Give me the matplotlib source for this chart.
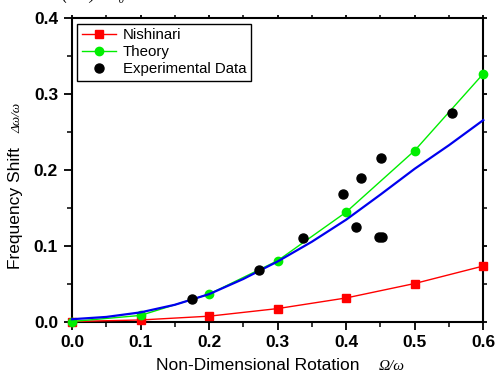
import matplotlib
matplotlib.use("Agg")
import matplotlib.pyplot as plt
from matplotlib.ticker import MultipleLocator

# ---- data ----
x_model = [0.0, 0.1, 0.2, 0.3, 0.4, 0.5, 0.6]
nishinari = [0.000, 0.002, 0.007, 0.017, 0.031, 0.050, 0.073]
theory = [0.000, 0.008, 0.036, 0.080, 0.144, 0.225, 0.326]

x_blue = [0.0, 0.05, 0.1, 0.15, 0.2, 0.25, 0.3, 0.35, 0.4, 0.45, 0.5, 0.55, 0.6]
blue = [0.003, 0.006, 0.012, 0.022, 0.036, 0.056, 0.079, 0.105, 0.134, 0.167, 0.201, 0.232, 0.265]

x_exp = [0.175, 0.273, 0.337, 0.395, 0.421, 0.451, 0.414, 0.448, 0.452, 0.555]
y_exp = [0.029, 0.068, 0.110, 0.168, 0.189, 0.215, 0.124, 0.111, 0.111, 0.275]

xticks = [0.0, 0.1, 0.2, 0.3, 0.4, 0.5, 0.6]
yticks = [0.0, 0.1, 0.2, 0.3, 0.4]

W, H = 497, 378
fig = plt.figure(figsize=(W / 100, H / 100), dpi=100)
ax = fig.add_axes([72 / W, 1 - 321.5 / H, (483.3 - 72) / W, (321.5 - 17.5) / H])

ax.plot(x_model, nishinari, color="red", lw=1.0, marker="s", ms=5.5,
        mec="red", mfc="red", label="Nishinari", clip_on=False, zorder=3)
ax.plot(x_model, theory, color="#00ee00", lw=1.0, marker="o", ms=6,
        mec="#00ee00", mfc="#00ee00", label="Theory", clip_on=False, zorder=3)
ax.plot(x_blue, blue, color="#0000ee", lw=1.6, clip_on=False, zorder=4)
ax.plot(x_exp, y_exp, ls="none", marker="o", ms=6.5, color="black",
        label="Experimental Data", zorder=5)

ax.set_xlim(0, 0.6)
ax.set_ylim(0, 0.4)
ax.set_xticks(xticks)
ax.set_yticks(yticks)
ax.set_xticklabels([f"{v:.1f}" for v in xticks])
ax.set_yticklabels([f"{v:.1f}" for v in yticks])
ax.xaxis.set_minor_locator(MultipleLocator(0.05))
ax.yaxis.set_minor_locator(MultipleLocator(0.05))

for sp in ax.spines.values():
    sp.set_linewidth(1.5)

ax.tick_params(axis="both", which="major", direction="out", length=6, width=1.3,
               labelsize=12.5, pad=4)
ax.tick_params(axis="both", which="minor", direction="out", length=3.5, width=1.1)
ax.tick_params(top=True, right=True, which="both")
for lbl in ax.get_xticklabels() + ax.get_yticklabels():
    lbl.set_fontweight("bold")
    lbl.set_family("Liberation Sans")
for t in ax.xaxis.get_major_ticks() + ax.xaxis.get_minor_ticks():
    t.tick2line.set_markersize(2)
for t in ax.yaxis.get_major_ticks() + ax.yaxis.get_minor_ticks():
    t.tick2line.set_markersize(3)

leg = ax.legend(loc="upper left", bbox_to_anchor=(0.005, 0.99), frameon=True,
                fancybox=False, edgecolor="black", framealpha=1,
                prop={"family": "Liberation Sans", "size": 10.8},
                handlelength=2.3, borderpad=0.3, labelspacing=0.2,
                handletextpad=0.45, borderaxespad=0.2)
leg.get_frame().set_linewidth(1.0)

def px(x, y):
    return x / W, 1 - y / H

fig.text(*px(258, 366), "Non-Dimensional Rotation", ha="center", va="center",
         fontsize=12.5, family="Liberation Sans")
fig.text(*px(392, 367), "\u03a9/\u03c9", ha="center", va="center",
         fontsize=11, family="Liberation Serif", style="italic")
fig.text(*px(16, 208), "Frequency Shift", ha="center", va="center",
         rotation=90, fontsize=12.5, family="Liberation Sans")
fig.text(*px(17, 118), "\u0394\u03c9/\u03c9", ha="center", va="center",
         rotation=90, fontsize=9.5, family="Liberation Serif", style="italic")
fig.text(*px(62, -6), "(  \u03c9)  \u03a6\u2080", ha="left", va="center",
         fontsize=13, family="Liberation Serif", style="italic")

fig.savefig("out.png", dpi=100)
